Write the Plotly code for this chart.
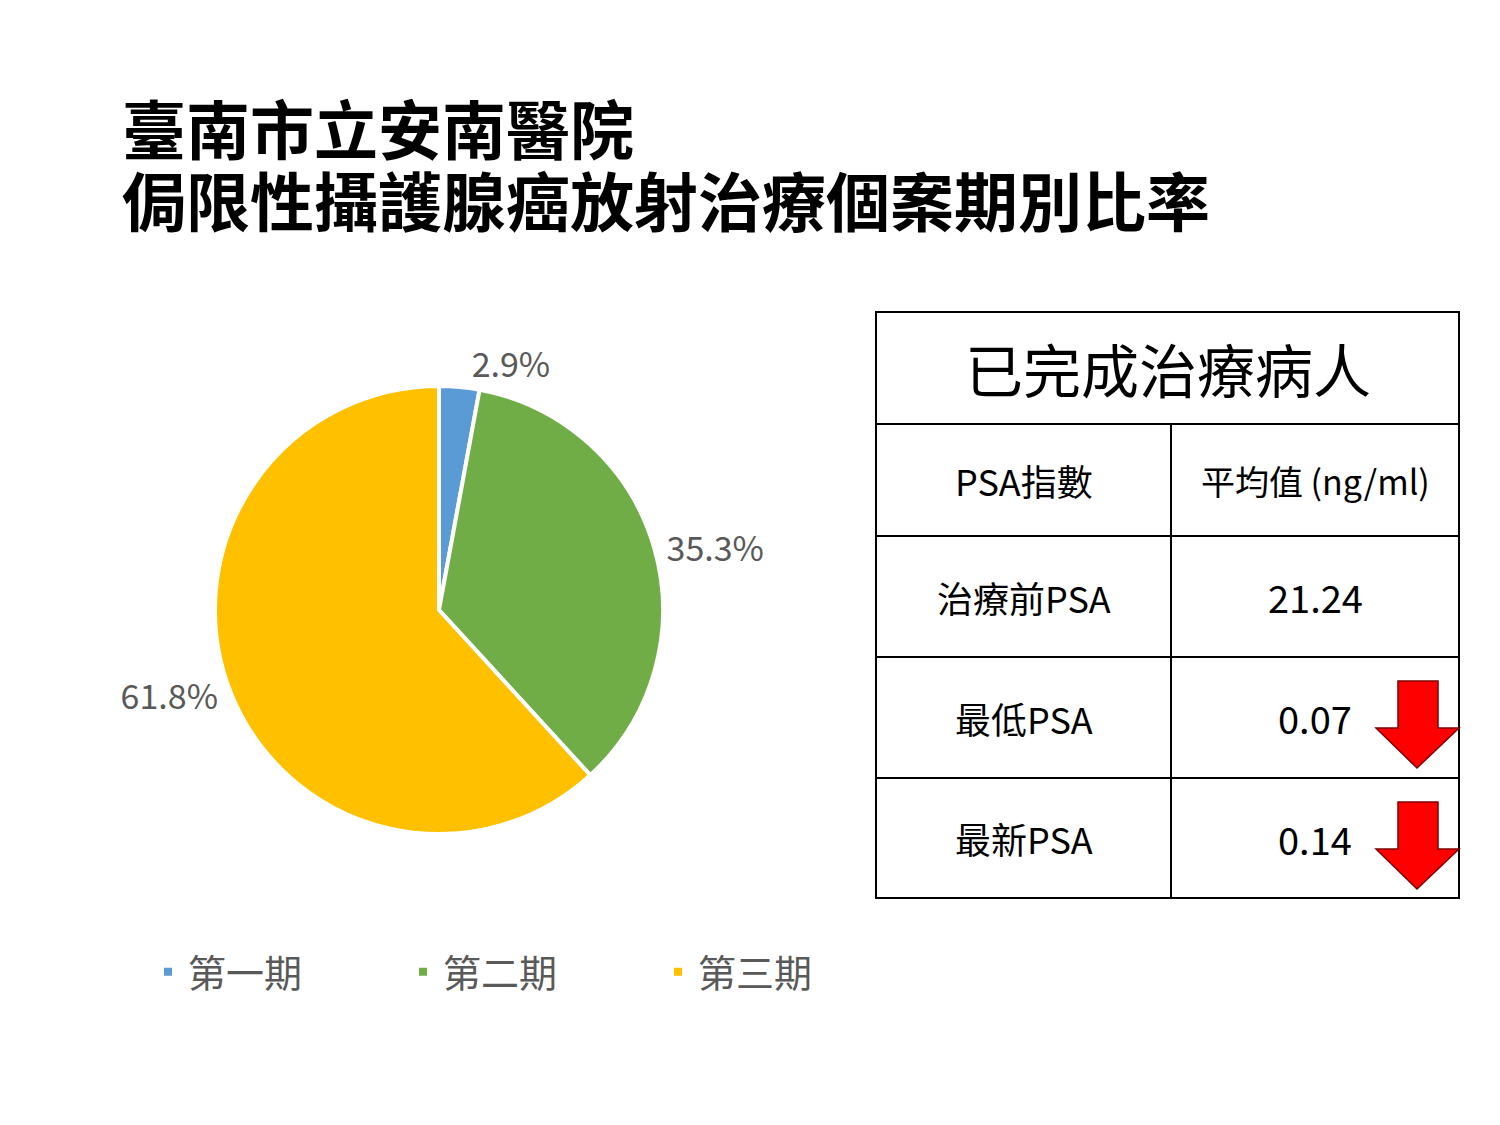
import plotly.graph_objects as go

W, H = 1500, 1125
stages = ["第一期", "第二期", "第三期"]
shares = [2.9, 35.3, 61.8]
colors = ["#5B9BD5", "#70AD47", "#FFC000"]

row_names = ["PSA指數", "治療前PSA", "最低PSA", "最新PSA"]
row_values = ["平均值 (ng/ml)", "21.24", "0.07", "0.14"]

FONT = "Noto Sans CJK TC"
OFF = 8  # page body margin


def px(x):
    return (x - OFF) / W


def py(y):
    return 1 - (y - OFF) / H


fig = go.Figure(go.Pie(
    labels=stages, values=shares, sort=False, direction="clockwise", rotation=0,
    marker=dict(colors=colors, line=dict(color="white", width=4)),
    texttemplate="%{value:.1f}%", textposition="outside",
    textfont=dict(size=34, color="#595959", family=FONT),
    domain=dict(x=[px(215), px(663)], y=[py(834), py(386)]),
    showlegend=True,
))

shapes = []
anns = []

# title
for txt, y in [("臺南市立安南醫院", 126), ("侷限性攝護腺癌放射治療個案期別比率", 198)]:
    anns.append(dict(text="<b>" + txt + "</b>", x=px(120), y=py(y), xref="paper", yref="paper",
                     xanchor="left", yanchor="middle", showarrow=False,
                     font=dict(size=64, color="black", family=FONT)))

# table
left, mid, right = 876, 1171, 1459
rows = [312, 424, 536, 657, 778, 898]
line = dict(color="black", width=2)
shapes.append(dict(type="rect", xref="paper", yref="paper", x0=px(left), x1=px(right),
                   y0=py(rows[-1]), y1=py(rows[0]), line=line))
for y in rows[1:-1]:
    shapes.append(dict(type="line", xref="paper", yref="paper", x0=px(left), x1=px(right),
                       y0=py(y), y1=py(y), line=line))
shapes.append(dict(type="line", xref="paper", yref="paper", x0=px(mid), x1=px(mid),
                   y0=py(rows[1]), y1=py(rows[-1]), line=line))

cell = dict(xref="paper", yref="paper", showarrow=False, xanchor="center", yanchor="middle")
anns.append(dict(text="已完成治療病人", x=px((left + right) / 2), y=py((rows[0] + rows[1]) / 2),
                 font=dict(size=58, color="black", family=FONT), **cell))
for i, (n, v) in enumerate(zip(row_names, row_values)):
    yc = py((rows[i + 1] + rows[i + 2]) / 2)
    anns.append(dict(text=n, x=px((left + mid) / 2), y=yc,
                     font=dict(size=36, color="black", family=FONT), **cell))
    anns.append(dict(text=v, x=px((mid + right) / 2), y=yc,
                     font=dict(size=38 if i else 34, color="black", family=FONT), **cell))

# red down arrows
for top in [681, 802]:
    pts = [(1398, top), (1438, top), (1438, top + 47), (1459, top + 47), (1417, top + 87),
           (1376, top + 47), (1398, top + 47)]
    path = "M " + " L ".join(f"{px(x)},{py(y)}" for x, y in pts) + " Z"
    shapes.append(dict(type="path", xref="paper", yref="paper", path=path,
                       fillcolor="#FF0000", line=dict(color="#7F0000", width=1.5)))

fig.update_layout(
    width=W, height=H, margin=dict(l=0, r=0, t=0, b=0),
    paper_bgcolor="white", plot_bgcolor="white",
    shapes=shapes, annotations=anns,
    legend=dict(orientation="h", x=px(148), y=py(972), xanchor="left", yanchor="middle",
                font=dict(size=38, color="#595959", family=FONT),
                entrywidth=210, entrywidthmode="pixels"),
)

fig.write_html("out.html")
